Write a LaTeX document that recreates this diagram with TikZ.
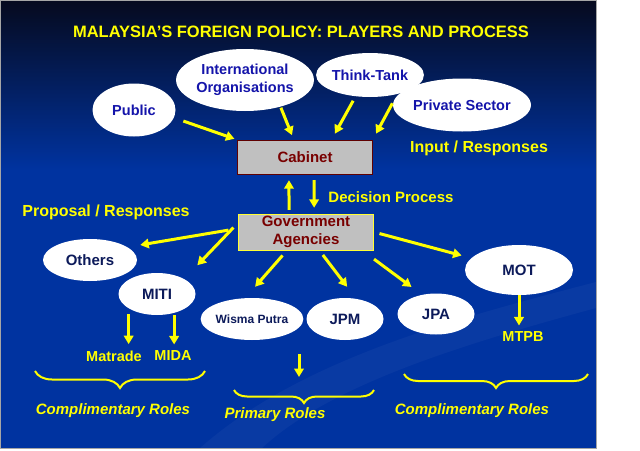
\documentclass[tikz,border=0pt]{standalone}
\usepackage{fontspec}
\setmainfont{Liberation Sans}
\usetikzlibrary{shapes.geometric,arrows.meta,decorations.pathreplacing}
\definecolor{slideblue}{RGB}{0,51,160}
\definecolor{slidetop}{RGB}{6,10,30}
\definecolor{inkblue}{RGB}{20,20,170}
\definecolor{inknavy}{RGB}{12,26,90}
\definecolor{boxred}{RGB}{120,0,0}
\definecolor{boxgray}{RGB}{192,192,192}
\definecolor{hiyellow}{RGB}{255,255,0}
\newcommand{\fsz}[1]{\fontsize{#1}{18}\selectfont}

\begin{document}
\begin{tikzpicture}[x=1pt, y=-1pt,
  bubble/.style={fill=white, ellipse, inner sep=0pt, align=center},
  topbubble/.style={bubble, text=inkblue, font=\bfseries\fsz{14.5}},
  lowbubble/.style={bubble, text=inknavy, font=\bfseries\fsz{15}},
  graybox/.style={fill=boxgray, text=boxred, inner sep=0pt, align=center,
    minimum width=135pt, font=\bfseries\fsz{15}},
  flow/.style={draw=hiyellow, line width=3pt, -{Triangle[width=9.5pt,length=8.5pt]}},
  caption/.style={text=hiyellow, font=\bfseries\fsz{16}},
  smalltag/.style={text=hiyellow, font=\bfseries\fsz{14.5}},
  roles/.style={text=hiyellow, font=\bfseries\itshape\fsz{15}},
  bracket/.style={draw=hiyellow, line width=2pt, decorate,
    decoration={brace, mirror, amplitude=#1}}]
  \useasboundingbox (0,0) rectangle (640,450);
  % slide background
  \fill[white] (0,0) rectangle (640,450);
  \shade[top color=slidetop, bottom color=slideblue] (0,0) rectangle (596,170);
  \fill[slideblue] (0,170) rectangle (596,448);
  \fill[white, opacity=0.035] (200,448) .. controls (300,360) and (450,320) .. (596,282)
    -- (596,308) .. controls (460,345) and (330,385) .. (262,448) -- cycle;
  \draw[gray!70, line width=0.8pt] (0,0) rectangle (596,448);

  \node[caption, font=\bfseries\fsz{16.5}] (title) at (301,32)
  {MALAYSIA’S FOREIGN POLICY: PLAYERS AND PROCESS};

  % inputs
  \node[topbubble, minimum width=83pt, minimum height=53pt] (public) at (134,110) {Public};
  \node[topbubble, minimum width=133pt, minimum height=62pt] (intorg) at (245,80)
  {International\\Organisations};
  \node[topbubble, minimum width=97pt, minimum height=44pt] (thinktank) at (370,75) {Think-Tank};
  \node[topbubble, minimum width=103pt, minimum height=53pt] (private) at (462,105) {Private Sector};

  \node[graybox, draw=boxred!80!black, minimum height=34pt] (cabinet) at (305,157) {Cabinet};
  \node[graybox, draw=hiyellow!80!white, minimum height=36pt] (gov) at (306,232)
  {Government\\Agencies};

  \node[caption] (input) at (479,148) {Input / Responses};
  \node[caption, font=\bfseries\fsz{15}] (decision) at (391,197) {Decision Process};
  \node[caption] (proposal) at (106,212) {Proposal / Responses};

  % agencies
  \node[lowbubble, minimum width=94pt, minimum height=42pt] (others) at (90,260) {Others};
  \node[lowbubble, minimum width=77pt, minimum height=42pt] (miti) at (157,294) {MITI};
  \node[lowbubble, minimum width=79pt, minimum height=42pt, font=\bfseries\fsz{12}] (wisma) at (252,319)
  {Wisma Putra};
  \node[lowbubble, minimum width=77pt, minimum height=42pt] (jpm) at (345,319) {JPM};
  \node[lowbubble, minimum width=77pt, minimum height=41pt] (jpa) at (436,314) {JPA};
  \node[lowbubble, minimum width=108pt, minimum height=50pt] (mot) at (519,270) {MOT};

  \node[smalltag] (matrade) at (114,356) {Matrade};
  \node[smalltag] (mida) at (173,356) {MIDA};
  \node[smalltag] (mtpb) at (523,337) {MTPB};

  \node[roles] (compleft) at (113,411) {Complimentary Roles};
  \node[roles] (primary) at (275,415) {Primary Roles};
  \node[roles] (compright) at (472,411) {Complimentary Roles};

  \coordinate (primtop) at (299,354);
  \coordinate (primtip) at (299,377);

  % input arrows
  \draw[flow, shorten <=10pt, shorten >=3pt] (public.-11) -- (cabinet.north west);
  \draw[flow, shorten <=1pt, shorten >=5pt] (intorg.-37) -- (cabinet.123);
  \draw[flow, shorten <=5pt, shorten >=7pt] (thinktank.-124) -- (cabinet.33);
  \draw[flow, shorten <=6pt, shorten >=7pt] (private.174) -- (cabinet.north east);

  % decision process
  \draw[flow, shorten <=4pt, shorten >=6pt] (gov.133) -- (cabinet.-133);
  \draw[flow, shorten <=6pt, shorten >=6pt] (cabinet.-62) -- (gov.66);

  % proposal arrows
  \draw[flow, shorten <=10pt, shorten >=13pt] (gov.177) -- (others.19);
  \draw[flow, shorten <=7pt, shorten >=19pt] (gov.172) -- (miti.29);
  \draw[flow, shorten <=7pt, shorten >=15pt] (gov.-136) -- (wisma.108);
  \draw[flow, shorten <=6pt, shorten >=15pt] (gov.-54) -- (jpm.61);
  \draw[flow, shorten <=15pt, shorten >=13pt] (gov.-18) -- (jpa.126);
  \draw[flow, shorten <=6pt, shorten >=10pt] (gov.east) -- (mot.166);

  \draw[flow, shorten <=6pt, shorten >=3pt] (miti.-153) -- (miti.-153 |- matrade.north);
  \draw[flow, shorten <=2pt, shorten >=3pt] (miti.-48) -- (miti.-48 |- mida.north);
  \draw[flow, shorten >=3pt] (mot.south) -- (mot.south |- mtpb.north);
  \draw[flow] (primtop) -- (primtip);

  % role brackets
  \draw[bracket=17pt] (35,371) -- (205,371);
  \draw[bracket=13pt] (234,390) -- (374,390);
  \draw[bracket=14pt] (404,374) -- (588,374);
\end{tikzpicture}
\end{document}
